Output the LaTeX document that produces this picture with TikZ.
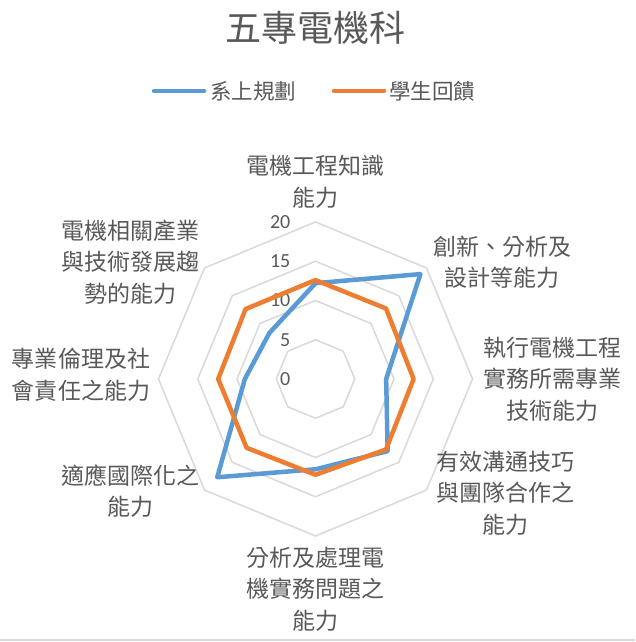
\documentclass[tikz,border=0pt]{standalone}
\usepackage{fontspec}
\newfontfamily\cjk{Noto Sans CJK TC}
\newfontfamily\numf{Carlito}
\definecolor{gridc}{HTML}{D9D9D9}
\definecolor{serA}{HTML}{5B9BD5}
\definecolor{serB}{HTML}{ED7D31}
\definecolor{txtc}{HTML}{595959}
\tikzset{
  gridline/.style={draw=gridc, line width=1.5pt, line join=miter},
  serAline/.style={draw=serA, line width=4.5pt, line join=round, line cap=round},
  serBline/.style={draw=serB, line width=4.5pt, line join=round, line cap=round},
  axlbl/.style={font=\cjk\fontsize{23}{31.5}\selectfont, text=txtc, align=center, inner sep=0pt},
  ticklbl/.style={font=\numf\fontsize{20}{22}\selectfont, text=txtc, anchor=east, inner sep=0pt},
  leglbl/.style={font=\cjk\fontsize{21.5}{24}\selectfont, text=txtc, anchor=west, inner sep=0pt},
}
\begin{document}
\begin{tikzpicture}[x=1pt,y=1pt]
\useasboundingbox (0,0) rectangle (635,642);
\fill[white] (0,0) rectangle (635,642);
% title
\node[font=\cjk\fontsize{36}{40}\selectfont, text=txtc, inner sep=0pt] (title) at (315,614) {五專電機科};
% legend
\coordinate (la1) at (154,551);
\coordinate (la2) at (204,551);
\coordinate (lb1) at (334,551);
\coordinate (lb2) at (384,551);
\draw[serAline] (la1) -- (la2);
\draw[serBline] (lb1) -- (lb2);
\node[leglbl] (legA) at (210,551) {系上規劃};
\node[leglbl] (legB) at (389,551) {學生回饋};
% chart
\begin{scope}[shift={(315.5,263)}]
  \coordinate (C) at (0,0);
  \foreach \k in {1,2,3,4}{
    \draw[gridline] (90:{\k*39.25}) \foreach \i in {1,...,7}{ -- ({90-45*\i}:{\k*39.25})} -- cycle;
  }
  \foreach \k/\v in {0/0,1/5,2/10,3/15,4/20}{
    \node[ticklbl] (t\v) at (-25,{\k*39.25}) {\v};
  }
  \draw[serAline] (90:{12.2*7.85}) -- (45:{18.9*7.85}) -- (0:{9*7.85}) -- (-45:{13*7.85})
     -- (-90:{11.5*7.85}) -- (-135:{17.7*7.85}) -- (180:{9*7.85}) -- (135:{8.3*7.85}) -- cycle;
  \draw[serBline] (90:{12.6*7.85}) -- (45:{12.7*7.85}) -- (0:{12.5*7.85}) -- (-45:{12.7*7.85})
     -- (-90:{12.2*7.85}) -- (-135:{12.4*7.85}) -- (180:{12.4*7.85}) -- (135:{12.6*7.85}) -- cycle;
\end{scope}
% axis labels
\node[axlbl] (ax1) at (315,460) {電機工程知識\\能力};
\node[axlbl] (ax2) at (502,380) {創新、分析及\\設計等能力};
\node[axlbl] (ax3) at (552,263) {執行電機工程\\實務所需專業\\技術能力};
\node[axlbl] (ax4) at (505,149) {有效溝通技巧\\與團隊合作之\\能力};
\node[axlbl] (ax5) at (315,53) {分析及處理電\\機實務問題之\\能力};
\node[axlbl] (ax6) at (130,151) {適應國際化之\\能力};
\node[axlbl] (ax7) at (81,267) {專業倫理及社\\會責任之能力};
\node[axlbl] (ax8) at (130,380) {電機相關產業\\與技術發展趨\\勢的能力};
% bottom border
\coordinate (b1) at (0,2);
\coordinate (b2) at (635,2);
\draw[gridc, line width=1.5pt] (b1) -- (b2);
\end{tikzpicture}
\end{document}
